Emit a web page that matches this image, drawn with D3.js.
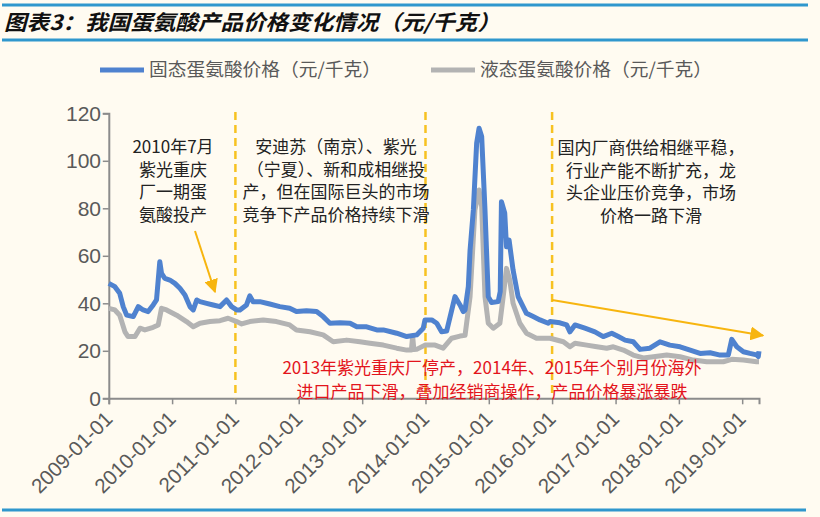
<!DOCTYPE html>
<html>
<head>
<meta charset="utf-8">
<script src="https://cdnjs.cloudflare.com/ajax/libs/d3/7.8.5/d3.min.js"></script>
<style>
  body { margin: 0; background: #fffbf1; }
  svg { display: block; }
  .cjk { font-family: "Noto Sans CJK SC", sans-serif; }
  .num { font-family: "Liberation Sans", Arial, sans-serif; }
</style>
</head>
<body>
<div id="chart"></div>
<script>
// data
var solidDates = ["2009-01-01","2009-02-05","2009-03-05","2009-03-25","2009-04-14","2009-05-22","2009-06-20","2009-07-18","2009-08-16","2009-09-14","2009-10-03","2009-10-22","2009-11-01","2009-11-20","2009-12-19","2010-01-17","2010-02-15","2010-03-16","2010-04-14","2010-05-03","2010-05-23","2010-06-11","2010-07-19","2010-08-26","2010-10-04","2010-11-11","2010-12-10","2011-01-08","2011-01-27","2011-03-06","2011-03-25","2011-04-13","2011-05-22","2011-07-18","2011-09-14","2011-11-10","2011-12-19","2012-02-15","2012-04-13","2012-05-21","2012-06-29","2012-08-26","2012-10-23","2012-12-01","2013-01-27","2013-03-26","2013-05-03","2013-07-19","2013-09-15","2013-11-11","2013-12-19","2013-12-29","2014-02-06","2014-03-07","2014-04-04","2014-05-03","2014-06-20","2014-07-19","2014-08-07","2014-08-17","2014-09-05","2014-09-15","2014-10-04","2014-10-23","2014-11-06","2014-11-21","2014-12-10","2014-12-29","2015-01-17","2015-02-24","2015-03-08","2015-03-15","2015-04-03","2015-04-13","2015-04-28","2015-05-21","2015-06-19","2015-08-06","2015-09-14","2015-10-23","2015-12-10","2015-12-20","2016-02-15","2016-03-25","2016-04-13","2016-05-12","2016-07-08","2016-09-04","2016-10-22","2016-12-10","2017-01-17","2017-02-25","2017-04-13","2017-05-22","2017-07-18","2017-09-14","2017-11-10","2018-01-08","2018-03-07","2018-05-03","2018-06-30","2018-08-27","2018-10-13","2018-11-02","2018-12-01","2019-01-08","2019-02-15","2019-03-25","2019-04-04","2019-04-08"];
var solidPrices = [48.4,47,44.2,38.6,35,34.4,38.6,37.2,36.5,39.3,41.4,57.5,52.6,50.5,49.8,48.4,46.3,43.5,38.6,37.2,41.4,40.7,40,39.3,38.6,41.4,38.6,37.2,37.2,39.3,43.1,40.7,40.7,39.7,38.6,37.9,36.5,36.9,36.5,34.4,31.6,31.8,31.6,30.1,30.1,28.8,28.8,27.4,26,26.7,29.5,33,33,31.6,28,28.3,42.8,39.3,36.5,37.2,47,62.4,79.3,107.4,113.7,110.2,79.3,42.8,40.3,40.7,45,82.8,77.9,63.8,66.6,54,42.8,35.8,34.4,33,31.6,32.3,31.8,30.9,28,30.9,29.5,28,26,27.4,26,24.5,23.8,20.6,21.1,23.8,22.4,21.7,20.3,18.9,19.2,18.2,18.2,24.8,21.7,19.6,18.9,18.3,17.6,19.8];

var liquidDates = ["2009-01-01","2009-02-05","2009-03-05","2009-04-04","2009-04-22","2009-06-01","2009-06-30","2009-07-28","2009-09-14","2009-10-13","2009-11-01","2009-11-30","2010-01-27","2010-03-25","2010-05-03","2010-06-11","2010-08-07","2010-10-04","2010-11-20","2011-01-08","2011-02-06","2011-03-25","2011-06-10","2011-08-26","2011-11-10","2011-12-19","2012-03-06","2012-05-21","2012-07-18","2012-10-04","2012-12-19","2013-02-15","2013-05-03","2013-07-19","2013-09-15","2013-10-12","2013-10-19","2013-10-26","2013-11-11","2013-12-29","2014-02-25","2014-04-13","2014-06-01","2014-07-19","2014-08-17","2014-09-15","2014-10-13","2014-11-06","2014-11-21","2014-12-10","2014-12-29","2015-01-27","2015-03-06","2015-03-25","2015-04-13","2015-05-02","2015-05-21","2015-06-29","2015-08-06","2015-10-03","2015-11-30","2015-12-20","2016-03-06","2016-04-13","2016-05-12","2016-07-19","2016-09-15","2016-11-11","2016-12-19","2017-02-15","2017-04-13","2017-06-10","2017-08-07","2017-10-23","2018-01-08","2018-03-25","2018-06-11","2018-09-14","2018-11-02","2019-01-08","2019-03-25","2019-04-08"];
var liquidPrices = [37.9,37.2,35,28,26,26,29.5,28.8,29.9,30.9,37.9,37.2,35,32.3,30.1,31.6,32.3,32.7,33.7,32.3,31.3,32.3,33,32.3,30.9,28.8,28,26.7,23.8,24.5,23.8,23.2,22.4,21.1,20.3,20.3,26.2,20.5,20.6,22.4,22.4,21.1,25.3,26.2,26.5,42.8,79.3,87.7,80.7,42.8,31.6,29.5,31.6,42.8,54.7,49.8,40,31.6,27.4,25.3,25.3,25.3,23.8,21.7,23.2,22.4,21.7,21.1,21.7,20.3,18.2,17,17.5,18.2,17.5,16.1,15.4,15.4,16.4,16.1,15.4,15.4];

var yTicks = [0, 20, 40, 60, 80, 100, 120];
var xTickYears = ["2009-01-01","2010-01-01","2011-01-01","2012-01-01","2013-01-01","2014-01-01","2015-01-01","2016-01-01","2017-01-01","2018-01-01","2019-01-01"];
var markerDates = ["2011-01-01","2014-01-01","2016-01-01"];

var svgWidth = 820;
var svgHeight = 517;

var parseDate = d3.timeParse("%Y-%m-%d");

var svg = d3.select("#chart")
    .append("svg")
    .attr("width", svgWidth)
    .attr("height", svgHeight);

svg.append("rect")
    .attr("width", svgWidth)
    .attr("height", svgHeight)
    .attr("fill", "#fffbf1");

// title and frame lines
var frameBlue = "#2f97cd";
svg.append("line").attr("x1", 2).attr("x2", 808).attr("y1", 5).attr("y2", 5)
    .attr("stroke", frameBlue).attr("stroke-width", 3);
svg.append("line").attr("x1", 2).attr("x2", 808).attr("y1", 40).attr("y2", 40)
    .attr("stroke", frameBlue).attr("stroke-width", 3);
svg.append("line").attr("x1", 2).attr("x2", 806).attr("y1", 510).attr("y2", 510)
    .attr("stroke", frameBlue).attr("stroke-width", 3);

svg.append("text")
    .attr("class", "cjk")
    .attr("x", 4)
    .attr("y", 30)
    .attr("font-size", "21px")
    .attr("font-weight", "bold")
    .attr("font-style", "italic")
    .attr("fill", "#111")
    .attr("textLength", 496)
    .attr("lengthAdjust", "spacingAndGlyphs")
    .text("图表3：我国蛋氨酸产品价格变化情况（元/千克）");

// scales
var x = d3.scaleTime()
    .domain([parseDate("2009-01-01"), parseDate("2019-04-08")])
    .range([108.8, 759]);

var y = d3.scaleLinear()
    .domain([0, 120])
    .range([398.3, 113.3]);

var solid = solidDates.map((d, i) => ({date: parseDate(d), value: solidPrices[i]}));
var liquid = liquidDates.map((d, i) => ({date: parseDate(d), value: liquidPrices[i]}));

// axes
var bottomAxis = d3.axisBottom(x)
    .tickValues(xTickYears.map(parseDate))
    .tickSize(6)
    .tickFormat("");

var leftAxis = d3.axisLeft(y)
    .tickValues(yTicks)
    .tickSize(6)
    .tickFormat("");

var xAxis = svg.append("g")
    .attr("transform", `translate(0, ${y(0)})`)
    .call(bottomAxis);

var yAxis = svg.append("g")
    .attr("transform", `translate(${x.range()[0]}, 0)`)
    .call(leftAxis);

[xAxis, yAxis].forEach(function(g) {
    g.select(".domain").attr("stroke", "#8c8c8c").attr("stroke-width", 2);
    g.selectAll(".tick line").attr("stroke", "#8c8c8c").attr("stroke-width", 1.5);
});

// y labels
svg.selectAll(".yLabel")
    .data(yTicks)
    .enter()
    .append("text")
    .attr("class", "yLabel num")
    .attr("x", 101)
    .attr("y", d => y(d))
    .attr("dy", "0.36em")
    .attr("text-anchor", "end")
    .attr("font-size", "21px")
    .attr("fill", "#595959")
    .text(d => d);

// x labels, rotated
svg.selectAll(".xLabel")
    .data(xTickYears)
    .enter()
    .append("text")
    .attr("class", "xLabel num")
    .attr("text-anchor", "end")
    .attr("transform", d => `translate(${x(parseDate(d)) + 5}, ${y(0) + 22}) rotate(-45)`)
    .attr("font-size", "20.5px")
    .attr("fill", "#595959")
    .text(d => d);

// dashed markers
svg.selectAll(".marker")
    .data(markerDates)
    .enter()
    .append("line")
    .attr("class", "marker")
    .attr("x1", d => x(parseDate(d)))
    .attr("x2", d => x(parseDate(d)))
    .attr("y1", 112)
    .attr("y2", y(0))
    .attr("stroke", "#f7c221")
    .attr("stroke-width", 2.5)
    .attr("stroke-dasharray", "8,5");

// lines
var line = d3.line()
    .x(d => x(d.date))
    .y(d => y(d.value));

svg.append("path")
    .datum(liquid)
    .attr("d", line)
    .attr("fill", "none")
    .attr("stroke", "#b3b3b3")
    .attr("stroke-width", 5)
    .attr("stroke-linejoin", "round");

svg.append("path")
    .datum(solid)
    .attr("d", line)
    .attr("fill", "none")
    .attr("stroke", "#4f82cf")
    .attr("stroke-width", 5)
    .attr("stroke-linejoin", "round");

// legend
var legendItems = [
    {label: "固态蛋氨酸价格（元/千克）", color: "#4f82cf", x: 100},
    {label: "液态蛋氨酸价格（元/千克）", color: "#b3b3b3", x: 431}
];
var legend = svg.selectAll(".legend")
    .data(legendItems)
    .enter()
    .append("g")
    .attr("class", "legend");
legend.append("line")
    .attr("x1", d => d.x)
    .attr("x2", d => d.x + 44)
    .attr("y1", 70)
    .attr("y2", 70)
    .attr("stroke", d => d.color)
    .attr("stroke-width", 5);
legend.append("text")
    .attr("class", "cjk")
    .attr("x", d => d.x + 49)
    .attr("y", 76)
    .attr("font-size", "18px")
    .attr("fill", "#595959")
    .attr("textLength", 232)
    .attr("lengthAdjust", "spacingAndGlyphs")
    .text(d => d.label);

// annotations
var note1 = ["2010年7月", "紫光重庆", "厂一期蛋", "氨酸投产"];
var note2 = ["安迪苏（南京）、紫光", "（宁夏）、新和成相继投", "产，但在国际巨头的市场", "竞争下产品价格持续下滑"];
var note3 = ["国内厂商供给相继平稳，", "行业产能不断扩充，龙", "头企业压价竞争，市场", "价格一路下滑"];
var note4 = ["2013年紫光重庆厂停产，2014年、2015年个别月份海外", "进口产品下滑，叠加经销商操作，产品价格暴涨暴跌"];

function drawNote(lines, cx, top, step, color) {
    svg.append("g").selectAll("text")
        .data(lines)
        .enter()
        .append("text")
        .attr("class", "cjk")
        .attr("x", cx)
        .attr("y", (d, i) => top + i * step)
        .attr("text-anchor", "middle")
        .attr("font-size", "17px")
        .attr("fill", color)
        .text(d => d);
}
drawNote(note1, 173, 153, 22.7, "#222");
drawNote(note2, 336, 153, 22.7, "#222");
drawNote(note3, 651, 154, 22.7, "#222");
drawNote(note4, 492, 374, 23.5, "#e3141c");

// arrows
svg.append("defs").append("marker")
    .attr("id", "head")
    .attr("viewBox", "0 0 10 10")
    .attr("refX", 9)
    .attr("refY", 5)
    .attr("markerWidth", 7)
    .attr("markerHeight", 7)
    .attr("markerUnits", "strokeWidth")
    .attr("orient", "auto")
    .append("path")
    .attr("d", "M0,0 L10,5 L0,10 Z")
    .attr("fill", "#f7b50f");

svg.append("line")
    .attr("x1", 195).attr("y1", 231)
    .attr("x2", 215).attr("y2", 292)
    .attr("stroke", "#f7b50f")
    .attr("stroke-width", 2)
    .attr("marker-end", "url(#head)");

svg.append("line")
    .attr("x1", x(parseDate("2016-01-01"))).attr("y1", 300)
    .attr("x2", 763).attr("y2", 335.5)
    .attr("stroke", "#f7b50f")
    .attr("stroke-width", 2)
    .attr("marker-end", "url(#head)");
</script>
</body>
</html>
